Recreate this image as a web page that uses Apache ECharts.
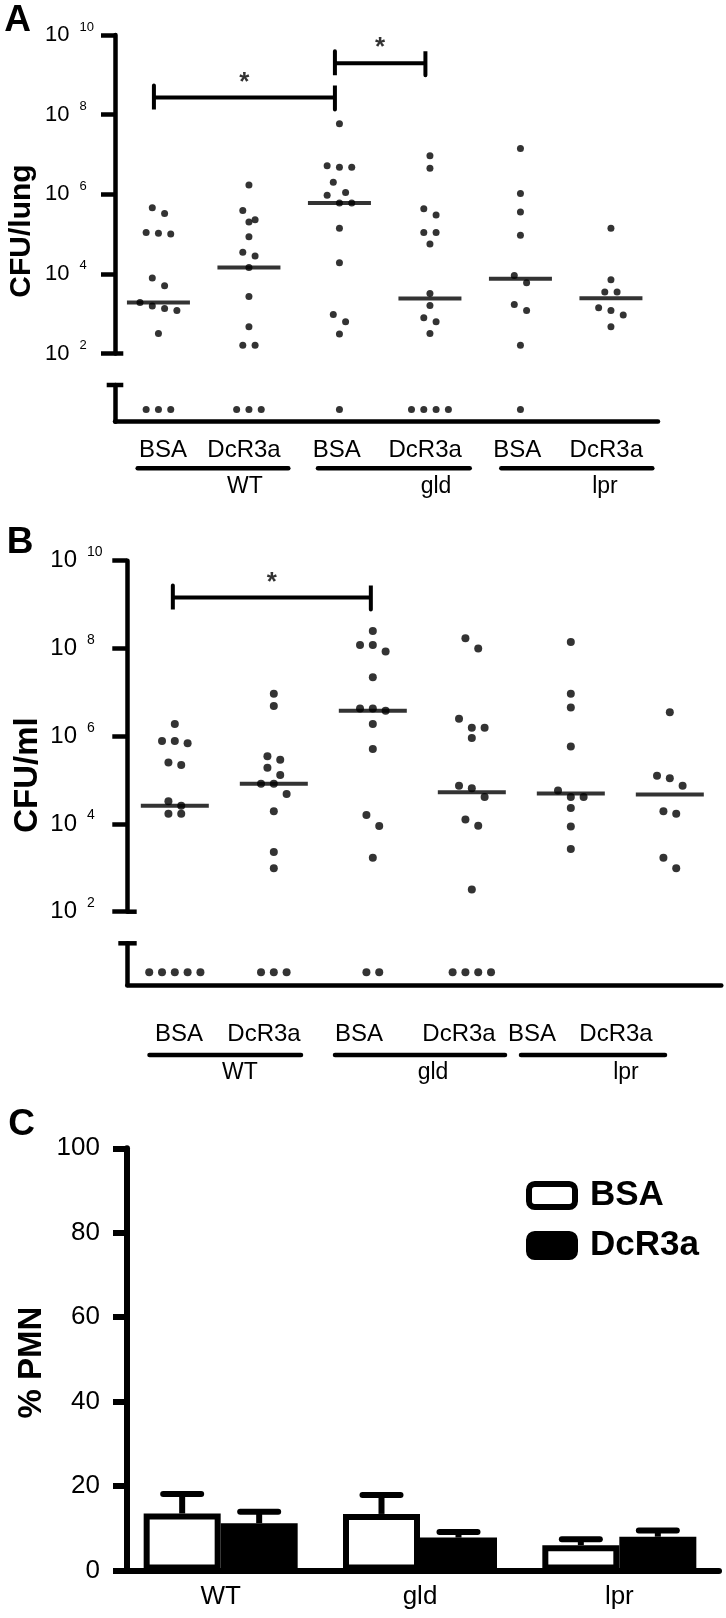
<!DOCTYPE html>
<html><head><meta charset="utf-8">
<script src="https://cdn.jsdelivr.net/npm/echarts@6/dist/echarts.min.js"></script>
<style>html,body{margin:0;padding:0;background:#fff}#c{width:726px;height:1618px}</style>
</head><body><div id="c"></div><script>
// ================= DATA =================
const groupLabels = ['WT', 'gld', 'lpr'];
const columnLabels = ['BSA', 'DcR3a', 'BSA', 'DcR3a', 'BSA', 'DcR3a'];
const legendLabels = ['BSA', 'DcR3a'];

// Panel A: CFU/lung per mouse (0 = below detection limit)
const lungWtBsa  = [4.6e5, 3.3e5, 1.1e5, 1.05e5, 1.0e5, 7.9e3, 5.0e3, 1.9e3, 1.55e3, 1.35e3, 1.2e3, 320, 0, 0, 0];
const lungWtDcr  = [1.7e6, 3.9e5, 2.3e5, 2.0e5, 8.5e4, 3.5e4, 2.8e4, 1.45e4, 2.7e3, 470, 160, 160, 0, 0, 0];
const lungGldBsa = [5.9e7, 5.2e6, 4.8e6, 4.8e6, 2.0e6, 1.1e6, 9.5e5, 6.0e5, 6.0e5, 1.4e5, 1.9e4, 950, 630, 310, 0];
const lungGldDcr = [9.3e6, 4.5e6, 4.3e5, 3.0e5, 1.1e5, 1.1e5, 5.6e4, 3.2e3, 1.6e3, 790, 630, 320, 0, 0, 0, 0];
const lungLprBsa = [1.4e7, 1.05e6, 3.6e5, 9.3e4, 9.1e3, 6.0e3, 1.7e3, 1.2e3, 160, 0];
const lungLprDcr = [1.4e5, 7.1e3, 3.5e3, 3.5e3, 1.4e3, 1.2e3, 930, 470];

// Panel B: CFU/ml per mouse
const bloodWtBsa  = [1.9e6, 7.8e5, 7.8e5, 6.9e5, 2.5e5, 2.2e5, 3.3e4, 2.6e4, 1.7e4, 1.7e4, 0, 0, 0, 0, 0];
const bloodWtDcr  = [9.3e6, 4.9e6, 3.5e5, 2.9e5, 1.9e5, 1.3e5, 8.3e4, 8.3e4, 4.8e4, 1.95e4, 2.3e3, 980, 0, 0, 0];
const bloodGldBsa = [2.5e8, 1.2e8, 1.2e8, 8.5e7, 2.2e7, 4.3e6, 4.3e6, 3.8e6, 1.9e6, 5.1e5, 1.6e4, 9.0e3, 1.7e3, 0, 0];
const bloodGldDcr = [1.7e8, 1.0e8, 2.5e6, 1.55e6, 1.55e6, 9.1e5, 7.4e4, 6.5e4, 4.1e4, 1.26e4, 9.1e3, 320, 0, 0, 0, 0];
const bloodLprBsa = [1.4e8, 9.3e6, 4.5e6, 5.8e5, 5.8e4, 4.1e4, 4.1e4, 2.3e4, 8.7e3, 2.7e3];
const bloodLprDcr = [3.5e6, 1.26e5, 1.1e5, 7.4e4, 1.95e4, 1.7e4, 1.7e3, 980];

// Significance brackets (column index from -> to, height in CFU)
const sigA = [{from: 0, to: 2, level: 2.7e8, label: '*'}, {from: 2, to: 3, level: 1.95e9, label: '*'}];
const sigB = [{from: 0, to: 2, level: 1.45e9, label: '*'}];

// Panel C: % PMN (mean, SEM)
const pmnBsa    = [13.5, 13.4, 6.0];
const pmnBsaSem = [4.6, 4.5, 1.4];
const pmnDcr    = [11.2, 7.8, 8.0];
const pmnDcrSem = [2.7, 1.3, 1.5];

// ================= LAYOUT =================
const FONT = '"Liberation Sans", Arial, Helvetica, sans-serif';
const K = '#000';
const XMIN = -0.48, XMAX = 5.52;

const panels = [
  { letter: 'A', letterX: 17.5, letterY: 21, title: 'CFU/lung', titleFont: 30, titleX: 22, titleY: 231,
    cols: [lungWtBsa, lungWtDcr, lungGldBsa, lungGldDcr, lungLprBsa, lungLprDcr], sig: sigA, sigShift: -0.05,
    left: 115, top: 35, width: 543, height: 318.5, lowTop: 385, lowH: 36.7, lowMax: 2,
    stepPx: 12.3, dot: 7, medW: 63, thrPx: 11, lineW: 4.5, tickLen: 14, capL: 8.3, capR: 8.3,
    labelMargin: 70, baseFont: 22, supFont: 13, supRaise: 16, supGap: 10,
    subY: 450.5, subX: [163, 244, 336.7, 425.2, 517.2, 606.3], subFont: 24,
    ulY: 468.3, ul: [[137.7, 288.3], [318, 469.7], [501.3, 652.3]],
    grpY: 487, grpX: [245, 436, 605], grpFont: 23 },
  { letter: 'B', letterX: 20, letterY: 542.5, title: 'CFU/ml', titleFont: 33, titleX: 28, titleY: 775,
    cols: [bloodWtBsa, bloodWtDcr, bloodGldBsa, bloodGldDcr, bloodLprBsa, bloodLprDcr], sig: sigB, sigShift: -0.02,
    left: 127.3, top: 560.7, width: 594, height: 351, lowTop: 943.3, lowH: 41.7, lowMax: 2.3,
    stepPx: 12.8, dot: 8, medW: 68, thrPx: 11.5, lineW: 4.5, tickLen: 15, capL: 9, capR: 9.4,
    labelMargin: 77, baseFont: 24, supFont: 14, supRaise: 17, supGap: 10,
    subY: 1034.4, subX: [179, 264, 359, 459, 532, 616], subFont: 24,
    ulY: 1055, ul: [[149.5, 301], [335, 505], [521, 665]],
    grpY: 1072.5, grpX: [240, 433, 626], grpFont: 23 }
];

function median(a) {
  const s = a.slice().sort((x, y) => x - y), n = s.length;
  return n % 2 ? s[(n - 1) / 2] : (s[n / 2 - 1] + s[n / 2]) / 2;
}
// Prism-like row layout: values close in log-space share a row and are spread sideways
function swarm(vals, pxPerDec, stepU, thrPx) {
  const s = vals.slice().sort((a, b) => b - a), out = [];
  let i = 0;
  while (i < s.length) {
    const start = Math.log10(s[i]);
    let j = i;
    while (j < s.length && (start - Math.log10(s[j])) * pxPerDec <= thrPx) j++;
    const n = j - i;
    for (let k = 0; k < n; k++) out.push([(k - (n - 1) / 2) * stepU, s[i + k]]);
    i = j;
  }
  return out;
}

const grids = [], xAxes = [], yAxes = [], series = [], graphics = [];
function txt(x, y, str, size, weight, extra) {
  return Object.assign({ type: 'text', x, y, silent: true, z: 10,
    style: { text: str, fill: K, fontSize: size, fontWeight: weight || 'normal', fontFamily: FONT,
             align: 'center', verticalAlign: 'middle' } }, extra || {});
}
function seg(x1, y1, x2, y2, w, cap) {
  return { type: 'line', silent: true, z: 10, shape: { x1, y1, x2, y2 }, style: { stroke: K, lineWidth: w, lineCap: cap || 'butt' } };
}

panels.forEach(p => {
  const gi = grids.length, xi = xAxes.length, yi = yAxes.length;
  grids.push({ left: p.left, top: p.top, width: p.width, height: p.height });
  grids.push({ left: p.left, top: p.lowTop, width: p.width, height: p.lowH });
  const line = { show: true, onZero: false, lineStyle: { color: K, width: p.lineW } };
  xAxes.push({ gridIndex: gi, type: 'value', min: XMIN, max: XMAX, show: false });
  xAxes.push({ gridIndex: gi + 1, type: 'value', min: XMIN, max: XMAX,
    axisLine: { show: true, onZero: false, lineStyle: { color: K, width: p.lineW, cap: 'round' } },
    axisTick: { show: false }, axisLabel: { show: false }, splitLine: { show: false } });
  yAxes.push({ gridIndex: gi, type: 'log', logBase: 100, min: 1e2, max: 1e10,
    axisLine: line, splitLine: { show: false }, minorTick: { show: false },
    axisTick: { show: true, inside: false, length: p.tickLen, lineStyle: { color: K, width: p.lineW } },
    axisLabel: { align: 'left', margin: p.labelMargin,
      formatter: v => '{b|10}{s|' + Math.round(Math.log10(v)) + '}',
      rich: { b: { fontSize: p.baseFont, fontFamily: FONT, color: K },
              s: { fontSize: p.supFont, fontFamily: FONT, color: K, padding: [0, 0, p.supRaise, p.supGap] } } } });
  yAxes.push({ gridIndex: gi + 1, type: 'value', min: -1, max: p.lowMax,
    axisLine: line, axisTick: { show: false }, axisLabel: { show: false }, splitLine: { show: false } });

  const unit = p.width / (XMAX - XMIN);
  const stepU = p.stepPx / unit;
  const pxPerDec = p.height / 8;
  const dots = [], zeros = [], meds = [];
  p.cols.forEach((col, g) => {
    const pos = col.filter(v => v > 0), nz = col.length - pos.length;
    swarm(pos, pxPerDec, stepU, p.thrPx).forEach(([o, v]) => dots.push([g + o, v]));
    for (let k = 0; k < nz; k++) zeros.push([g + (k - (nz - 1) / 2) * stepU, 0]);
    meds.push([g, median(col)]);
  });
  series.push({ type: 'scatter', xAxisIndex: xi, yAxisIndex: yi, data: dots, symbol: 'circle', symbolSize: p.dot,
    itemStyle: { color: K }, silent: true, z: 3 });
  series.push({ type: 'scatter', xAxisIndex: xi + 1, yAxisIndex: yi + 1, data: zeros, symbol: 'circle', symbolSize: p.dot,
    itemStyle: { color: K }, silent: true, z: 3 });
  series.push({ type: 'scatter', xAxisIndex: xi, yAxisIndex: yi, data: meds, symbol: 'rect', symbolSize: [p.medW, 4],
    itemStyle: { color: K }, silent: true, z: 2 });

  // significance brackets
  const tickDec = 12 / pxPerDec;
  p.sig.forEach(s => {
    const x1 = s.from + p.sigShift, x2 = s.to + p.sigShift;
    const hi = s.level * Math.pow(10, tickDec), lo = s.level / Math.pow(10, tickDec);
    series.push({ type: 'line', xAxisIndex: xi, yAxisIndex: yi, symbol: 'none', silent: true, z: 4,
      data: [[x1, hi], [x1, lo], [x1, s.level], [x2, s.level], [x2, hi], [x2, lo]],
      lineStyle: { color: K, width: 4, cap: 'round', join: 'miter' } });
    series.push({ type: 'scatter', xAxisIndex: xi, yAxisIndex: yi, symbolSize: 0.1, silent: true,
      itemStyle: { color: 'rgba(0,0,0,0)' }, data: [[(x1 + x2) / 2, s.level]],
      label: { show: true, position: 'top', distance: 2, formatter: s.label, fontSize: 26, fontWeight: 'bold', fontFamily: FONT, color: K } });
  });

  // axis break caps
  const yb = p.top + p.height;
  graphics.push(seg(p.left, yb, p.left + p.capR, yb, p.lineW));
  graphics.push(seg(p.left - p.capL, p.lowTop, p.left + p.capR, p.lowTop, p.lineW));
  // titles & letters
  graphics.push(txt(p.titleX, p.titleY, p.title, p.titleFont, 'bold', { rotation: Math.PI / 2 }));
  graphics.push(txt(p.letterX, p.letterY, p.letter, 37, 'bold'));
  // category labels
  columnLabels.forEach((t, i) => graphics.push(txt(p.subX[i], p.subY, t, p.subFont)));
  p.ul.forEach(([a, b]) => graphics.push(seg(a, p.ulY, b, p.ulY, 4.5, 'round')));
  groupLabels.forEach((t, i) => graphics.push(txt(p.grpX[i], p.grpY, t, p.grpFont)));
});

// ---------- Panel C ----------
const BARW = 77, CAPW = 38;
const gC = grids.length, xC = xAxes.length, yC = yAxes.length;
grids.push({ left: 121, top: 1148.3, width: 598, height: 422.2 });
xAxes.push({ gridIndex: gC, type: 'category', data: groupLabels,
  axisLine: { show: true, lineStyle: { color: K, width: 6 } }, axisTick: { show: false },
  axisLabel: { color: K, fontSize: 26, fontFamily: FONT, margin: 13 } });
yAxes.push({ gridIndex: gC, type: 'value', min: 0, max: 100, interval: 20, offset: -6,
  axisLine: { show: true, onZero: false, lineStyle: { color: K, width: 6 } },
  axisTick: { show: true, length: 14, lineStyle: { color: K, width: 6 } },
  axisLabel: { color: K, fontSize: 26, fontFamily: FONT, margin: 27 }, splitLine: { show: false } });
series.push({ type: 'bar', name: legendLabels[0], xAxisIndex: xC, yAxisIndex: yC, data: pmnBsa, barWidth: BARW, barGap: '0%',
  itemStyle: { color: '#fff', borderColor: K, borderWidth: 6 }, silent: true });
series.push({ type: 'bar', name: legendLabels[1], xAxisIndex: xC, yAxisIndex: yC, data: pmnDcr, barWidth: BARW, barGap: '0%',
  itemStyle: { color: K, borderColor: K, borderWidth: 6 }, silent: true });
function errSeries(vals, sems, side) {
  return { type: 'custom', xAxisIndex: xC, yAxisIndex: yC, silent: true, z: 5,
    data: vals.map((v, i) => [i, v, sems[i]]), encode: { x: 0, y: 1 },
    renderItem: (params, api) => {
      const i = api.value(0), v = api.value(1), e = api.value(2);
      const p0 = api.coord([i, v]), p1 = api.coord([i, v + e]);
      const x = p0[0] + side * BARW / 2;
      return { type: 'group', children: [
        { type: 'line', shape: { x1: x, y1: p0[1], x2: x, y2: p1[1] }, style: { stroke: K, lineWidth: 6 } },
        { type: 'line', shape: { x1: x - CAPW / 2, y1: p1[1], x2: x + CAPW / 2, y2: p1[1] }, style: { stroke: K, lineWidth: 6, lineCap: 'round' } }
      ] };
    } };
}
series.push(errSeries(pmnBsa, pmnBsaSem, -1));
series.push(errSeries(pmnDcr, pmnDcrSem, 1));
graphics.push(txt(21.7, 1124.7, 'C', 37, 'bold'));
graphics.push(txt(31.7, 1362.5, '% PMN', 33, 'bold', { rotation: Math.PI / 2 }));

const chart = echarts.init(document.getElementById('c'), null, { renderer: 'canvas', width: 726, height: 1618 });
chart.setOption({
  animation: false,
  backgroundColor: '#fff',
  grid: grids, xAxis: xAxes, yAxis: yAxes, series: series,
  legend: { data: [
      { name: legendLabels[0], itemStyle: { color: '#fff', borderColor: K, borderWidth: 6 } },
      { name: legendLabels[1], itemStyle: { color: K, borderColor: K, borderWidth: 6 } } ],
    orient: 'vertical', left: 526, top: 1178, padding: 0, itemWidth: 46, itemHeight: 23, itemGap: 15,
    icon: 'roundRect', selectedMode: false,
    textStyle: { fontSize: 35, fontWeight: 'bold', fontFamily: FONT, color: K, padding: [0, 0, 0, 10] } },
  graphic: { elements: graphics }
});
</script></body></html>
